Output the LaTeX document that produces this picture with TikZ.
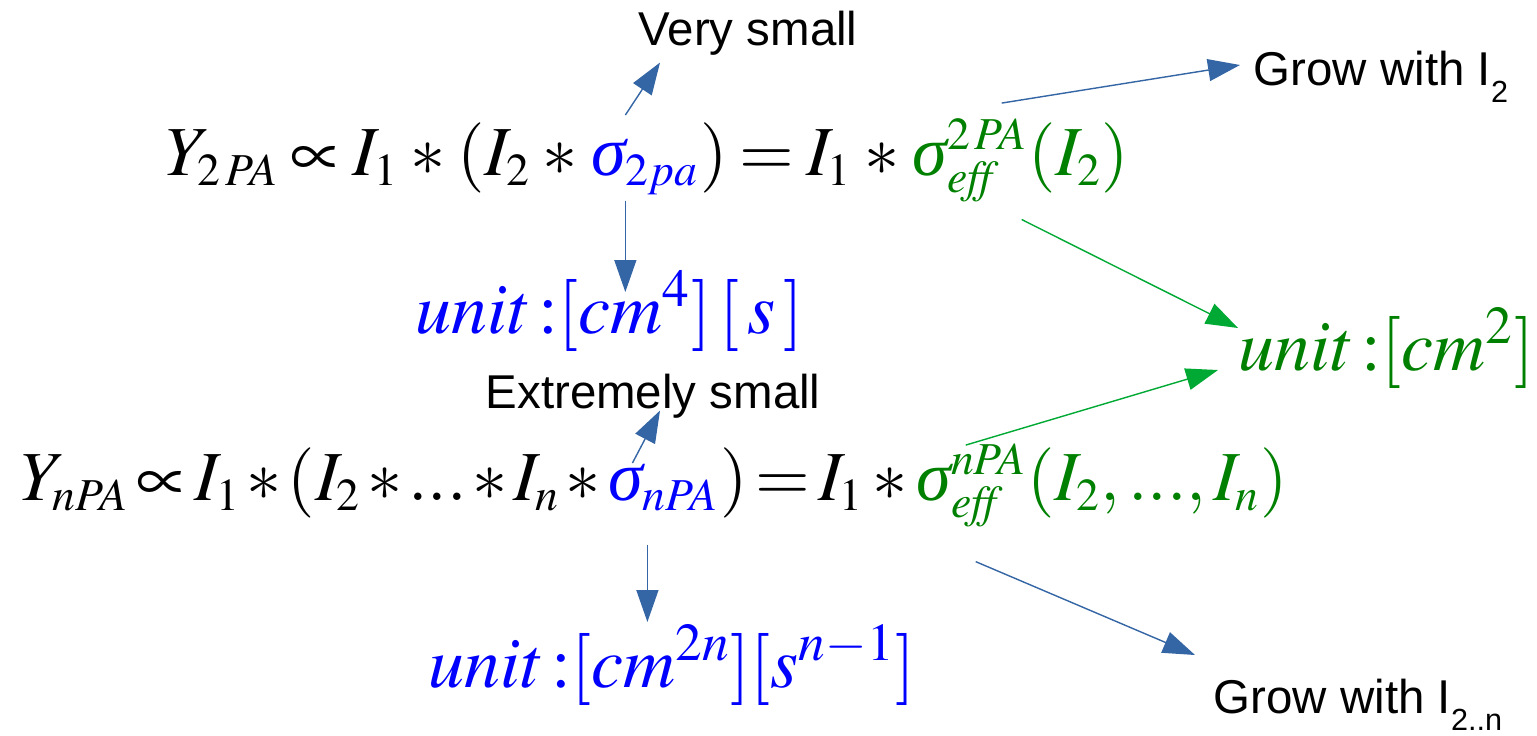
\documentclass[tikz,border=0pt]{standalone}
\usepackage{mathptmx}
\usepackage{fontspec}
\setmainfont{Liberation Sans}
\newfontfamily\greekit{Liberation Serif}
\usetikzlibrary{positioning}
\usetikzlibrary{arrows.meta}
\definecolor{arrblue}{RGB}{52,101,164}
\definecolor{arrgreen}{RGB}{0,169,51}
\definecolor{effgreen}{RGB}{0,128,0}
\DeclareMathSizes{20}{20}{13}{10}
\newcommand{\tdots}{{.}{.}{.}}
\newcommand{\sig}{\mbox{\greekit\itshape σ}}
\newcommand{\eqfont}{\fontsize{20}{24}\selectfont\thickmuskip=3mu\relax\medmuskip=3mu\relax}

\begin{document}
\begin{tikzpicture}[
    eq/.style={inner sep=0pt, anchor=base west, font=\eqfont},
    unitlab/.style={inner sep=0pt, anchor=base west, font=\fontsize{20.5}{25}\selectfont},
    txt/.style={inner sep=0pt, anchor=base west, font=\fontsize{13.5}{16}\selectfont},
    barrow/.style={arrblue, line width=0.4pt, -{Triangle[length=3.2mm,width=2.2mm]}},
    garrow/.style={arrgreen, line width=0.4pt, -{Triangle[length=3.2mm,width=2.2mm]}}
]
\useasboundingbox (0,0) rectangle (15.37,7.35);

% two-photon line
\node[eq] (lhsA) at (1.65,5.60) {$Y_{2\,PA}\propto I_1*(I_2*{}$};
\node[eq, blue] (sigA) at (lhsA.base east) {$\sig_{2pa}$};
\node[eq] (midA) at (sigA.base east) {$)=I_1*{}$};
\node[eq, effgreen] (effA) at (midA.base east) {$\sig_{\mathit{eff}}^{2\,PA}(I_2)$};

% n-photon line
\node[eq] (lhsB) at (0.20,2.35) {$\thickmuskip=2mu\medmuskip=1.5mu Y_{nPA}\propto I_1*(I_2*\tdots*I_n*{}$};
\node[eq, blue] (sigB) at (lhsB.base east) {$\sig_{nPA}$};
\node[eq] (midB) at (sigB.base east) {$\thickmuskip=2mu\medmuskip=2mu)=I_1*{}$};
\node[eq, effgreen] (effB) at (midB.base east) {$\sig_{\mathit{eff}}^{nPA}(I_2,\tdots,I_n)$};

% units
\node[unitlab, blue] (unitA) at (4.15,4.02) {$unit\,{:}[cm^{4}]\,[\,s\,]$};
\node[unitlab, effgreen] (unitC) at (12.38,3.65) {$unit\,{:}[cm^{2}]$};
\node[unitlab, blue] (unitB) at (4.28,0.48) {$unit\,{:}[cm^{2n}][s^{n-1}]$};

% comments
\node[txt] (vsmall) at (6.38,6.90) {Very small};
\node[txt] (esmall) at (4.85,3.27) {Extremely small};
\node[txt] (growA) at (12.53,6.50) {Grow with I\raisebox{-5pt}{\fontsize{8.7}{9}\selectfont 2}};
\node[txt] (growB) at (12.13,0.22) {Grow with I\raisebox{-5pt}{\fontsize{8.7}{9}\selectfont 2..n}};

\draw[barrow] ([xshift=3.5mm,yshift=2.3mm]sigA.north west) -- ([xshift=2.2mm,yshift=-0.7mm]vsmall.south west);
\draw[barrow] ([xshift=3.5mm,yshift=-0.5mm]sigA.south west) -- ([xshift=3.5mm,yshift=4.1mm]sigA.south west |- unitA.base);
\draw[barrow] ([xshift=9mm,yshift=1.5mm]effA.north west) -- ([xshift=-1.3mm,yshift=2mm]growA.base west);
\draw[garrow] ([xshift=11mm,yshift=-1.7mm]effA.south west) -- ([yshift=4.2mm]unitC.base west);
\draw[garrow] ([xshift=5mm,yshift=-0.2mm]effB.north west) -- ([xshift=-2mm]unitC.base west);
\draw[barrow] ([xshift=2.5mm]sigB.north west) -- ([xshift=17.5mm,yshift=0.8mm]esmall.south west);
\draw[barrow] ([xshift=4mm,yshift=-3.3mm]sigB.south west) -- ([xshift=4mm,yshift=6.5mm]sigB.south west |- unitB.base);
\draw[barrow] ([xshift=6mm,yshift=-3.4mm]effB.south west) -- ([xshift=-1.8mm,yshift=5.8mm]growB.base west);

\end{tikzpicture}
\end{document}
